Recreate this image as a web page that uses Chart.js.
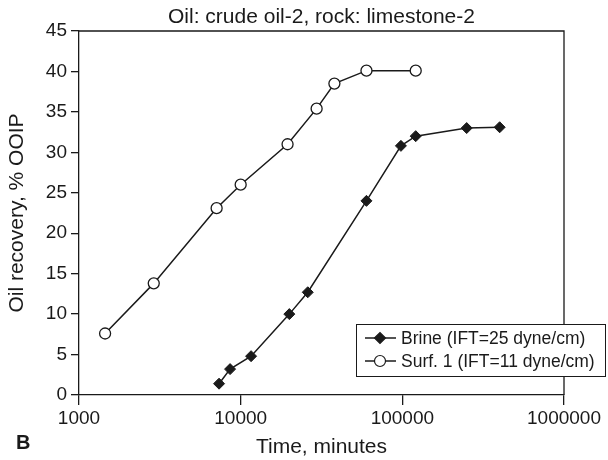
<!DOCTYPE html>
<html>
<head>
<meta charset="utf-8">
<script src="https://cdn.jsdelivr.net/npm/chart.js@4.4.1/dist/chart.umd.min.js"></script>
<style>
  html, body { margin: 0; padding: 0; background: #fff; }
  #wrap { width: 608px; height: 460px; position: relative; }
</style>
</head>
<body>
<div id="wrap"><canvas id="chart"></canvas></div>
<script>
// values (time in minutes, recovery in % OOIP)
var brineTime = [7350, 8600, 11600, 20000, 26000, 60000, 98000, 121000, 250000, 400000];
var brineRecovery = [1.4, 3.2, 4.8, 10.0, 12.7, 24.0, 30.8, 32.0, 33.0, 33.1];
var surfTime = [1450, 2900, 7100, 10000, 19500, 29500, 38000, 60000, 121000];
var surfRecovery = [7.6, 13.8, 23.1, 26.0, 31.0, 35.4, 38.5, 40.1, 40.1];
var xTicks = [1000, 10000, 100000, 1000000];
var seriesNames = ["Brine (IFT=25 dyne/cm)", "Surf. 1 (IFT=11 dyne/cm)"];
var chartTitle = "Oil: crude oil-2, rock: limestone-2";

var INK = "#1a1a1a";
var FONT = "'Liberation Sans', Arial, Helvetica, sans-serif";

function toPoints(xs, ys) {
    var out = [];
    for (var i = 0; i < xs.length; i++) out.push({ x: xs[i], y: ys[i] });
    return out;
}

// Function's Responsibility: box round the plot, title over the plot, legend and panel letter
var extrasPlugin = {
    id: "extras",
    afterDraw: function (chart) {
        var ctx = chart.ctx;
        var a = chart.chartArea;
        ctx.save();
        ctx.strokeStyle = INK;
        ctx.lineWidth = 1.3;
        ctx.beginPath();
        ctx.moveTo(a.left, a.top);
        ctx.lineTo(a.right, a.top);
        ctx.lineTo(a.right, a.bottom);
        ctx.stroke();

        // title centred on the plot area
        ctx.fillStyle = INK;
        ctx.font = "21px " + FONT;
        ctx.textAlign = "center";
        ctx.textBaseline = "middle";
        ctx.fillText(chartTitle, (a.left + a.right) / 2, 17);
        ctx.textAlign = "left";

        // legend
        var bx = 356, by = 324, bw = 249, bh = 52;
        ctx.fillStyle = "#fff";
        ctx.fillRect(bx, by, bw, bh);
        ctx.lineWidth = 1;
        ctx.strokeRect(bx + 0.5, by + 0.5, bw, bh);
        ctx.font = "17.5px " + FONT;
        chart.data.datasets.forEach(function (ds, i) {
            var cy = by + 14 + i * 23;
            ctx.strokeStyle = INK;
            ctx.lineWidth = 1.5;
            ctx.beginPath();
            ctx.moveTo(bx + 9, cy);
            ctx.lineTo(bx + 40, cy);
            ctx.stroke();
            ctx.fillStyle = ds.pointBackgroundColor;
            ctx.strokeStyle = INK;
            ctx.lineWidth = 1.2;
            Chart.helpers.drawPoint(ctx, { pointStyle: ds.pointStyle, radius: ds.pointRadius, borderWidth: 1.2 }, bx + 24, cy);
            ctx.fillStyle = INK;
            ctx.fillText(ds.label, bx + 45, cy + 1);
        });

        ctx.font = "bold 20px " + FONT;
        ctx.fillText("B", 16, 443);
        ctx.restore();
    }
};

var ctx = document.getElementById("chart").getContext("2d");
var myChart = new Chart(ctx, {
    type: "line",
    data: {
        datasets: [{
            label: seriesNames[0],
            data: toPoints(brineTime, brineRecovery),
            borderColor: INK,
            borderWidth: 1.5,
            pointStyle: "rectRot",
            pointRadius: 5.5,
            pointBackgroundColor: INK,
            pointBorderColor: INK,
            pointBorderWidth: 1
        }, {
            label: seriesNames[1],
            data: toPoints(surfTime, surfRecovery),
            borderColor: INK,
            borderWidth: 1.5,
            pointStyle: "circle",
            pointRadius: 5.5,
            pointBackgroundColor: "#fff",
            pointBorderColor: INK,
            pointBorderWidth: 1.3
        }]
    },
    options: {
        responsive: true,
        maintainAspectRatio: false,
        animation: false,
        layout: { padding: { top: 31, right: 44, bottom: 0, left: 0 } },
        plugins: {
            legend: { display: false },
            tooltip: { enabled: false },
            title: { display: false }
        },
        scales: {
            x: {
                type: "logarithmic",
                min: 1000,
                max: 1000000,
                afterBuildTicks: function (scale) {
                    scale.ticks = xTicks.map(function (v) { return { value: v }; });
                },
                afterFit: function (scale) { scale.height = 65; },
                ticks: {
                    color: INK,
                    font: { family: FONT, size: 19 },
                    padding: 2,
                    maxRotation: 0,
                    autoSkip: false,
                    callback: function (v) { return String(v); }
                },
                grid: { display: true, drawOnChartArea: false, drawTicks: true, tickLength: 10, color: INK, lineWidth: 1.3 },
                border: { display: true, color: INK, width: 1.3 },
                title: {
                    display: true,
                    text: "Time, minutes",
                    color: INK,
                    font: { family: FONT, size: 21 },
                    padding: { top: 0, bottom: 0 }
                }
            },
            y: {
                min: 0,
                max: 45,
                afterFit: function (scale) { scale.width = 79; },
                ticks: {
                    stepSize: 5,
                    color: INK,
                    font: { family: FONT, size: 19 },
                    padding: 4
                },
                grid: { display: true, drawOnChartArea: false, drawTicks: true, tickLength: 8, color: INK, lineWidth: 1.3 },
                border: { display: true, color: INK, width: 1.3 },
                title: {
                    display: true,
                    text: "Oil recovery, % OOIP",
                    color: INK,
                    font: { family: FONT, size: 21 },
                    padding: { top: 5, bottom: 0 }
                }
            }
        }
    },
    plugins: [extrasPlugin]
});
</script>
</body>
</html>
